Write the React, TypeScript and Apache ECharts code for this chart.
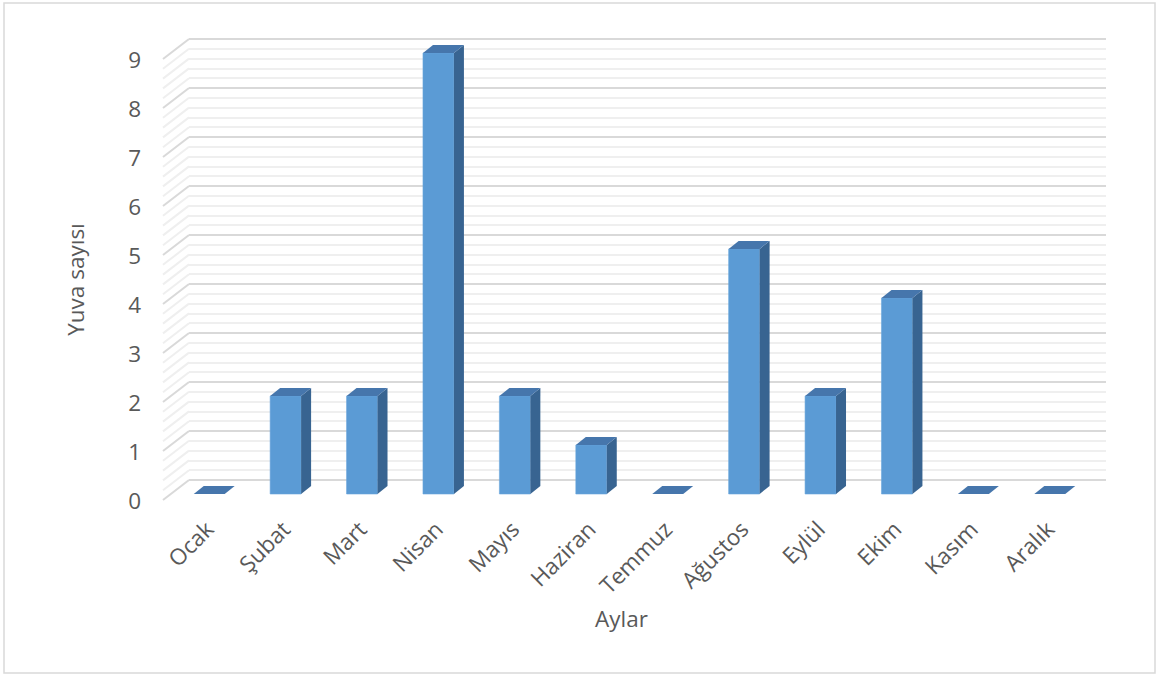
import React, { useEffect, useRef } from "react";
import * as echarts from "echarts";

const categories = ["Ocak", "Şubat", "Mart", "Nisan", "Mayıs", "Haziran", "Temmuz", "Ağustos", "Eylül", "Ekim", "Kasım", "Aralık"];
const values = [0, 2, 2, 9, 2, 1, 0, 5, 2, 4, 0, 0];
const yMin = 0;
const yMax = 9;
const yInterval = 1;
const minorSplits = 5;
const xTitle = "Aylar";
const yTitle = "Yuva sayısı";

const FONT = "'Open Sans', 'Noto Sans', sans-serif";
const FS = 22.5;
const TEXT = "#595959";
const DEPTH_X = 26;
const DEPTH_Y = 20;
const BAR_DX = 10;
const BAR_DY = 8;

export default function App() {
  const ref = useRef<HTMLDivElement>(null);
  useEffect(() => {
    const chart = echarts.init(ref.current!, null, { renderer: "svg" });
    const W = 917;
    const H = 441;
    const grids = [
      { left: 163, top: 59, width: W, height: H },
      { left: 171, top: 53, width: W, height: H },
      { left: 189, top: 39, width: W, height: H },
    ];
    const yBase = { type: "value", min: yMin, max: yMax, interval: yInterval };
    chart.setOption({
      animation: false,
      backgroundColor: "#ffffff",
      textStyle: { fontFamily: FONT },
      graphic: [
        {
          type: "rect",
          shape: { x: 4, y: 3, width: 1151, height: 670 },
          style: { fill: "none", stroke: "#d9d9d9", lineWidth: 1.5 },
          silent: true,
        },
      ],
      grid: grids,
      xAxis: [
        {
          gridIndex: 0,
          type: "category",
          data: categories,
          name: xTitle,
          nameLocation: "middle",
          nameGap: 107,
          nameTextStyle: { color: TEXT, fontSize: FS, fontFamily: FONT },
          axisLine: { show: false },
          axisTick: { show: false },
          axisLabel: { show: false },
          splitLine: { show: false },
        },
        {
          gridIndex: 1,
          type: "category",
          data: categories,
          axisLine: { show: false },
          axisTick: { show: false },
          axisLabel: { show: true, rotate: 45, margin: 31, color: TEXT, fontSize: FS, fontFamily: FONT, interval: 0 },
          splitLine: { show: false },
        },
        {
          gridIndex: 2,
          type: "category",
          data: categories,
          show: false,
        },
      ],
      yAxis: [
        {
          ...yBase,
          gridIndex: 0,
          name: yTitle,
          nameLocation: "middle",
          nameGap: 76,
          nameTextStyle: { color: TEXT, fontSize: FS, fontFamily: FONT },
          axisLine: { show: false },
          axisTick: { show: false },
          axisLabel: { margin: 22, color: TEXT, fontSize: FS, fontFamily: FONT },
          splitLine: { show: false },
        },
        {
          ...yBase,
          gridIndex: 1,
          axisLine: { show: false },
          axisTick: { show: false },
          axisLabel: { show: false },
          splitLine: { show: false },
        },
        {
          ...yBase,
          gridIndex: 2,
          axisLine: { show: false },
          axisTick: { show: false },
          axisLabel: { show: false },
          splitLine: { show: true, lineStyle: { color: "#d9d9d9", width: 2 } },
          minorTick: { show: false, splitNumber: minorSplits },
          minorSplitLine: { show: true, lineStyle: { color: "#efefef", width: 2 } },
        },
      ],
      series: [
        {
          type: "custom",
          xAxisIndex: 0,
          yAxisIndex: 0,
          silent: true,
          z: 1,
          data: [[0, yMin]],
          renderItem: (params: any, api: any) => {
            const cs = params.coordSys;
            const children: any[] = [];
            const steps = Math.round(((yMax - yMin) / yInterval) * minorSplits);
            for (let k = 0; k <= steps; k++) {
              const v = yMin + (k * yInterval) / minorSplits;
              const p = api.coord([0, v]);
              const major = k % minorSplits === 0;
              children.push({
                type: "line",
                shape: { x1: cs.x, y1: p[1], x2: cs.x + DEPTH_X, y2: p[1] - DEPTH_Y },
                style: { stroke: major ? "#d9d9d9" : "#efefef", lineWidth: 2 },
              });
            }
            return { type: "group", children };
          },
        },
        {
          type: "custom",
          xAxisIndex: 1,
          yAxisIndex: 1,
          z: 3,
          encode: { x: 0, y: 1 },
          data: values.map((v, i) => [i, v]),
          renderItem: (params: any, api: any) => {
            const i = api.value(0);
            const v = api.value(1);
            const top = api.coord([i, v]);
            const bot = api.coord([i, 0]);
            const band = api.size([1, 0])[0];
            const w = band * 0.405;
            const x = top[0] - w / 2;
            const yT = top[1];
            const yB = bot[1];
            const children: any[] = [];
            if (v > 0) {
              children.push({
                type: "rect",
                shape: { x, y: yT, width: w, height: yB - yT },
                style: { fill: "#5b9bd5", stroke: "#6aa6dc", lineWidth: 0.6 },
              });
              children.push({
                type: "polygon",
                shape: {
                  points: [
                    [x + w, yT],
                    [x + w + BAR_DX, yT - BAR_DY],
                    [x + w + BAR_DX, yB - BAR_DY],
                    [x + w, yB],
                  ],
                },
                style: { fill: "#386491" },
              });
            }
            children.push({
              type: "polygon",
              shape: {
                points: [
                  [x, yT],
                  [x + BAR_DX, yT - BAR_DY],
                  [x + w + BAR_DX, yT - BAR_DY],
                  [x + w, yT],
                ],
              },
              style: { fill: "#4676ac" },
            });
            return { type: "group", children };
          },
        },
      ],
    });
    return () => chart.dispose();
  }, []);
  return (
    <div
      ref={ref}
      style={{ position: "fixed", left: 0, top: 0, width: 1160, height: 675, background: "#fff" }}
    />
  );
}
